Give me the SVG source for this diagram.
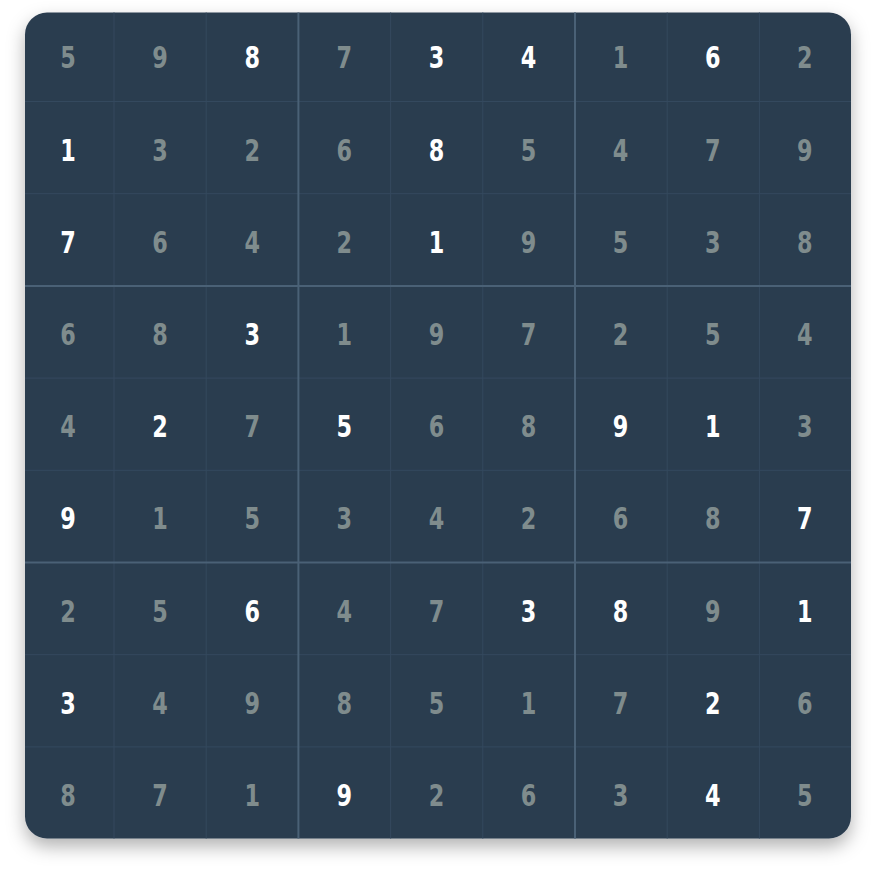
<svg xmlns="http://www.w3.org/2000/svg" width="875" height="875" viewBox="0 0 875 875">
<defs>
<filter id="shadow" x="-10%" y="-10%" width="120%" height="125%">
<feDropShadow dx="0" dy="8" stdDeviation="9" flood-color="#000" flood-opacity="0.3"/>
</filter>
<style>
.board{fill:#2c3e50}
.thin{stroke:#34495e;stroke-width:1}
.thick{stroke:#4a6176;stroke-width:2}
text{font-family:"DejaVu Sans Condensed","DejaVu Sans",sans-serif;font-stretch:condensed;font-weight:bold;font-size:31px;text-anchor:middle}
.given{fill:#ffffff}
.filled{fill:#7f8c8d}
</style>
</defs>
<rect class="board" x="25" y="12.5" width="826" height="826" rx="22" filter="url(#shadow)"/>
<g id="grid-lines">
<line class="thin" x1="114" y1="12.5" x2="114" y2="838.5"/>
<line class="thin" x1="206.2" y1="12.5" x2="206.2" y2="838.5"/>
<line class="thin" x1="390.6" y1="12.5" x2="390.6" y2="838.5"/>
<line class="thin" x1="482.8" y1="12.5" x2="482.8" y2="838.5"/>
<line class="thin" x1="667.2" y1="12.5" x2="667.2" y2="838.5"/>
<line class="thin" x1="759.4" y1="12.5" x2="759.4" y2="838.5"/>
<line class="thin" x1="25" y1="101.5" x2="851" y2="101.5"/>
<line class="thin" x1="25" y1="193.7" x2="851" y2="193.7"/>
<line class="thin" x1="25" y1="378.1" x2="851" y2="378.1"/>
<line class="thin" x1="25" y1="470.3" x2="851" y2="470.3"/>
<line class="thin" x1="25" y1="654.7" x2="851" y2="654.7"/>
<line class="thin" x1="25" y1="746.9" x2="851" y2="746.9"/>
<line class="thick" x1="298.4" y1="12.5" x2="298.4" y2="838.5"/>
<line class="thick" x1="575" y1="12.5" x2="575" y2="838.5"/>
<line class="thick" x1="25" y1="285.9" x2="851" y2="285.9"/>
<line class="thick" x1="25" y1="562.5" x2="851" y2="562.5"/>
</g>
<g id="cells">
<g id="r1c1"><text class="filled" transform="translate(68 68.3) scale(0.8 1)">5</text></g>
<g id="r1c2"><text class="filled" transform="translate(160.1 68.3) scale(0.8 1)">9</text></g>
<g id="r1c3"><text class="given" transform="translate(252.2 68.3) scale(0.8 1)">8</text></g>
<g id="r1c4"><text class="filled" transform="translate(344.3 68.3) scale(0.8 1)">7</text></g>
<g id="r1c5"><text class="given" transform="translate(436.4 68.3) scale(0.8 1)">3</text></g>
<g id="r1c6"><text class="given" transform="translate(528.5 68.3) scale(0.8 1)">4</text></g>
<g id="r1c7"><text class="filled" transform="translate(620.6 68.3) scale(0.8 1)">1</text></g>
<g id="r1c8"><text class="given" transform="translate(712.7 68.3) scale(0.8 1)">6</text></g>
<g id="r1c9"><text class="filled" transform="translate(804.8 68.3) scale(0.8 1)">2</text></g>

<g id="r2c1"><text class="given" transform="translate(68 160.5) scale(0.8 1)">1</text></g>
<g id="r2c2"><text class="filled" transform="translate(160.1 160.5) scale(0.8 1)">3</text></g>
<g id="r2c3"><text class="filled" transform="translate(252.2 160.5) scale(0.8 1)">2</text></g>
<g id="r2c4"><text class="filled" transform="translate(344.3 160.5) scale(0.8 1)">6</text></g>
<g id="r2c5"><text class="given" transform="translate(436.4 160.5) scale(0.8 1)">8</text></g>
<g id="r2c6"><text class="filled" transform="translate(528.5 160.5) scale(0.8 1)">5</text></g>
<g id="r2c7"><text class="filled" transform="translate(620.6 160.5) scale(0.8 1)">4</text></g>
<g id="r2c8"><text class="filled" transform="translate(712.7 160.5) scale(0.8 1)">7</text></g>
<g id="r2c9"><text class="filled" transform="translate(804.8 160.5) scale(0.8 1)">9</text></g>

<g id="r3c1"><text class="given" transform="translate(68 252.7) scale(0.8 1)">7</text></g>
<g id="r3c2"><text class="filled" transform="translate(160.1 252.7) scale(0.8 1)">6</text></g>
<g id="r3c3"><text class="filled" transform="translate(252.2 252.7) scale(0.8 1)">4</text></g>
<g id="r3c4"><text class="filled" transform="translate(344.3 252.7) scale(0.8 1)">2</text></g>
<g id="r3c5"><text class="given" transform="translate(436.4 252.7) scale(0.8 1)">1</text></g>
<g id="r3c6"><text class="filled" transform="translate(528.5 252.7) scale(0.8 1)">9</text></g>
<g id="r3c7"><text class="filled" transform="translate(620.6 252.7) scale(0.8 1)">5</text></g>
<g id="r3c8"><text class="filled" transform="translate(712.7 252.7) scale(0.8 1)">3</text></g>
<g id="r3c9"><text class="filled" transform="translate(804.8 252.7) scale(0.8 1)">8</text></g>

<g id="r4c1"><text class="filled" transform="translate(68 344.9) scale(0.8 1)">6</text></g>
<g id="r4c2"><text class="filled" transform="translate(160.1 344.9) scale(0.8 1)">8</text></g>
<g id="r4c3"><text class="given" transform="translate(252.2 344.9) scale(0.8 1)">3</text></g>
<g id="r4c4"><text class="filled" transform="translate(344.3 344.9) scale(0.8 1)">1</text></g>
<g id="r4c5"><text class="filled" transform="translate(436.4 344.9) scale(0.8 1)">9</text></g>
<g id="r4c6"><text class="filled" transform="translate(528.5 344.9) scale(0.8 1)">7</text></g>
<g id="r4c7"><text class="filled" transform="translate(620.6 344.9) scale(0.8 1)">2</text></g>
<g id="r4c8"><text class="filled" transform="translate(712.7 344.9) scale(0.8 1)">5</text></g>
<g id="r4c9"><text class="filled" transform="translate(804.8 344.9) scale(0.8 1)">4</text></g>

<g id="r5c1"><text class="filled" transform="translate(68 437.1) scale(0.8 1)">4</text></g>
<g id="r5c2"><text class="given" transform="translate(160.1 437.1) scale(0.8 1)">2</text></g>
<g id="r5c3"><text class="filled" transform="translate(252.2 437.1) scale(0.8 1)">7</text></g>
<g id="r5c4"><text class="given" transform="translate(344.3 437.1) scale(0.8 1)">5</text></g>
<g id="r5c5"><text class="filled" transform="translate(436.4 437.1) scale(0.8 1)">6</text></g>
<g id="r5c6"><text class="filled" transform="translate(528.5 437.1) scale(0.8 1)">8</text></g>
<g id="r5c7"><text class="given" transform="translate(620.6 437.1) scale(0.8 1)">9</text></g>
<g id="r5c8"><text class="given" transform="translate(712.7 437.1) scale(0.8 1)">1</text></g>
<g id="r5c9"><text class="filled" transform="translate(804.8 437.1) scale(0.8 1)">3</text></g>

<g id="r6c1"><text class="given" transform="translate(68 529.3) scale(0.8 1)">9</text></g>
<g id="r6c2"><text class="filled" transform="translate(160.1 529.3) scale(0.8 1)">1</text></g>
<g id="r6c3"><text class="filled" transform="translate(252.2 529.3) scale(0.8 1)">5</text></g>
<g id="r6c4"><text class="filled" transform="translate(344.3 529.3) scale(0.8 1)">3</text></g>
<g id="r6c5"><text class="filled" transform="translate(436.4 529.3) scale(0.8 1)">4</text></g>
<g id="r6c6"><text class="filled" transform="translate(528.5 529.3) scale(0.8 1)">2</text></g>
<g id="r6c7"><text class="filled" transform="translate(620.6 529.3) scale(0.8 1)">6</text></g>
<g id="r6c8"><text class="filled" transform="translate(712.7 529.3) scale(0.8 1)">8</text></g>
<g id="r6c9"><text class="given" transform="translate(804.8 529.3) scale(0.8 1)">7</text></g>

<g id="r7c1"><text class="filled" transform="translate(68 621.5) scale(0.8 1)">2</text></g>
<g id="r7c2"><text class="filled" transform="translate(160.1 621.5) scale(0.8 1)">5</text></g>
<g id="r7c3"><text class="given" transform="translate(252.2 621.5) scale(0.8 1)">6</text></g>
<g id="r7c4"><text class="filled" transform="translate(344.3 621.5) scale(0.8 1)">4</text></g>
<g id="r7c5"><text class="filled" transform="translate(436.4 621.5) scale(0.8 1)">7</text></g>
<g id="r7c6"><text class="given" transform="translate(528.5 621.5) scale(0.8 1)">3</text></g>
<g id="r7c7"><text class="given" transform="translate(620.6 621.5) scale(0.8 1)">8</text></g>
<g id="r7c8"><text class="filled" transform="translate(712.7 621.5) scale(0.8 1)">9</text></g>
<g id="r7c9"><text class="given" transform="translate(804.8 621.5) scale(0.8 1)">1</text></g>

<g id="r8c1"><text class="given" transform="translate(68 713.7) scale(0.8 1)">3</text></g>
<g id="r8c2"><text class="filled" transform="translate(160.1 713.7) scale(0.8 1)">4</text></g>
<g id="r8c3"><text class="filled" transform="translate(252.2 713.7) scale(0.8 1)">9</text></g>
<g id="r8c4"><text class="filled" transform="translate(344.3 713.7) scale(0.8 1)">8</text></g>
<g id="r8c5"><text class="filled" transform="translate(436.4 713.7) scale(0.8 1)">5</text></g>
<g id="r8c6"><text class="filled" transform="translate(528.5 713.7) scale(0.8 1)">1</text></g>
<g id="r8c7"><text class="filled" transform="translate(620.6 713.7) scale(0.8 1)">7</text></g>
<g id="r8c8"><text class="given" transform="translate(712.7 713.7) scale(0.8 1)">2</text></g>
<g id="r8c9"><text class="filled" transform="translate(804.8 713.7) scale(0.8 1)">6</text></g>

<g id="r9c1"><text class="filled" transform="translate(68 805.9) scale(0.8 1)">8</text></g>
<g id="r9c2"><text class="filled" transform="translate(160.1 805.9) scale(0.8 1)">7</text></g>
<g id="r9c3"><text class="filled" transform="translate(252.2 805.9) scale(0.8 1)">1</text></g>
<g id="r9c4"><text class="given" transform="translate(344.3 805.9) scale(0.8 1)">9</text></g>
<g id="r9c5"><text class="filled" transform="translate(436.4 805.9) scale(0.8 1)">2</text></g>
<g id="r9c6"><text class="filled" transform="translate(528.5 805.9) scale(0.8 1)">6</text></g>
<g id="r9c7"><text class="filled" transform="translate(620.6 805.9) scale(0.8 1)">3</text></g>
<g id="r9c8"><text class="given" transform="translate(712.7 805.9) scale(0.8 1)">4</text></g>
<g id="r9c9"><text class="filled" transform="translate(804.8 805.9) scale(0.8 1)">5</text></g>
</g>
</svg>
